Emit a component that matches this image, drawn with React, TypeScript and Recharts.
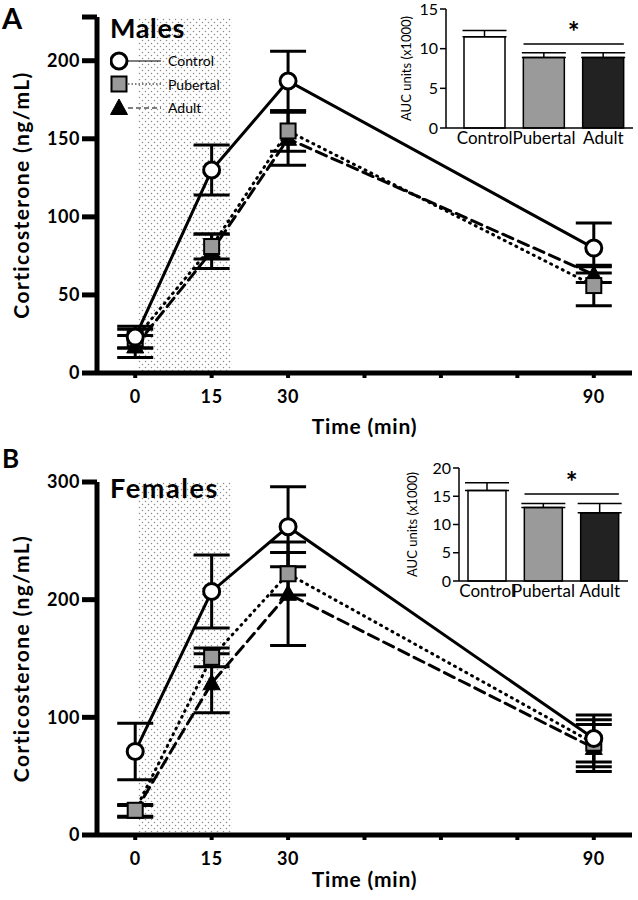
import React from "react";
import {
  ComposedChart,
  BarChart,
  Bar,
  Line,
  XAxis,
  YAxis,
  ErrorBar,
  ReferenceArea,
  ReferenceLine,
  Legend,
  Cell,
} from "recharts";

const FONT = "Lato, 'Open Sans', sans-serif";

// time course (min)
const TIMES = [0, 15, 30, 90];
const TIME_TICKS = [0, 15, 30, 45, 60, 75, 90];
const TIME_LABELS = [0, 15, 30, 90];
const RESTRAINT = [0.5, 19];

// males, ng/mL (mean, sem)
const MALE_CONTROL = [23, 130, 187, 80];
const MALE_CONTROL_SEM = [7, 16, 19, 16];
const MALE_PUBERTAL = [22, 81, 155, 56];
const MALE_PUBERTAL_SEM = [6, 8, 13, 13];
const MALE_ADULT = [17, 78, 150, 63];
const MALE_ADULT_SEM = [7, 11, 17, 5];

// females, ng/mL (mean, sem)
const FEMALE_CONTROL = [71, 207, 262, 82];
const FEMALE_CONTROL_SEM = [24, 31, 34, 20];
const FEMALE_PUBERTAL = [21, 151, 222, 78];
const FEMALE_PUBERTAL_SEM = [5, 8, 18, 20];
const FEMALE_ADULT = [20, 129, 205, 74];
const FEMALE_ADULT_SEM = [5, 25, 44, 20];

// AUC insets (x1000)
const GROUPS = ["Control", "Pubertal", "Adult"];
const GROUP_FILLS = ["#ffffff", "#9a9a9a", "#222222"];
const MALE_AUC = [11.5, 8.9, 8.9];
const MALE_AUC_SEM = [0.8, 0.6, 0.6];
const MALE_SIG = 10.6;
const FEMALE_AUC = [16, 13, 12.1];
const FEMALE_AUC_SEM = [1.4, 0.7, 1.6];
const FEMALE_SIG = 15.4;

type MarkerKind = "circle" | "square" | "triangle";

// draw order: adult at the back, control on top
const SERIES: { key: string; name: string; marker: MarkerKind; dash?: string; legendDash?: string }[] = [
  { key: "adult", name: "Adult", marker: "triangle", dash: "11 6", legendDash: "5 3" },
  { key: "pubertal", name: "Pubertal", marker: "square", dash: "1 5.5", legendDash: "1.5 2" },
  { key: "control", name: "Control", marker: "circle" },
];

function buildTimeData(
  control: number[],
  controlSem: number[],
  pubertal: number[],
  pubertalSem: number[],
  adult: number[],
  adultSem: number[],
) {
  return TIMES.map((t, i) => ({
    t,
    control: control[i],
    controlErr: controlSem[i],
    pubertal: pubertal[i],
    pubertalErr: pubertalSem[i],
    adult: adult[i],
    adultErr: adultSem[i],
  }));
}

const MALE_DATA = buildTimeData(
  MALE_CONTROL, MALE_CONTROL_SEM, MALE_PUBERTAL, MALE_PUBERTAL_SEM, MALE_ADULT, MALE_ADULT_SEM,
);
const FEMALE_DATA = buildTimeData(
  FEMALE_CONTROL, FEMALE_CONTROL_SEM, FEMALE_PUBERTAL, FEMALE_PUBERTAL_SEM, FEMALE_ADULT, FEMALE_ADULT_SEM,
);

function Marker({ kind, cx, cy }: { kind: MarkerKind; cx: number; cy: number }) {
  if (kind === "circle") {
    return <circle cx={cx} cy={cy} r={8} fill="#fff" stroke="#000" strokeWidth={3} />;
  }
  if (kind === "square") {
    return (
      <rect x={cx - 7.5} y={cy - 7.5} width={15} height={15} fill="#999" stroke="#000" strokeWidth={2} />
    );
  }
  return (
    <polygon
      points={`${cx},${cy - 9} ${cx - 8.5},${cy + 6.5} ${cx + 8.5},${cy + 6.5}`}
      fill="#000"
      stroke="#000"
      strokeWidth={1}
    />
  );
}

function MalesLegend() {
  const rows = [...SERIES].reverse();
  return (
    <div style={{ fontFamily: FONT, color: "#000" }}>
      <div style={{ fontSize: 27, fontWeight: 700, lineHeight: "28px", marginBottom: 7, letterSpacing: 0.6 }}>
        Males
      </div>
      {rows.map((s) => (
        <div key={s.key} style={{ display: "flex", alignItems: "center", height: 23.5 }}>
          <svg width={57} height={22}>
            <line x1={18} x2={51} y1={11} y2={11} stroke="#000" strokeWidth={1.2} strokeDasharray={s.legendDash} />
            <Marker kind={s.marker} cx={9} cy={11} />
          </svg>
          <span style={{ fontSize: 14, marginLeft: 1 }}>{s.name}</span>
        </div>
      ))}
    </div>
  );
}

function TimeCourse({
  id,
  data,
  height,
  top,
  plotHeight,
  yMax,
  yTicks,
  yLabels,
  timeOffset,
  legend,
}: {
  id: string;
  data: ReturnType<typeof buildTimeData>;
  height: number;
  top: number;
  plotHeight: number;
  yMax: number;
  yTicks: number[];
  yLabels: number[];
  timeOffset: number;
  legend?: boolean;
}) {
  const tickStyle = { fontSize: 18, fontWeight: 700, fill: "#000", fontFamily: FONT, letterSpacing: 0.6 };
  return (
    <ComposedChart
      width={638}
      height={height}
      data={data}
      margin={{ top, right: 6, left: 0, bottom: 0 }}
    >
      <defs>
        <pattern id={`stipple-${id}`} width={6} height={6} patternUnits="userSpaceOnUse">
          <rect width={6} height={6} fill="#fff" />
          <circle cx={1.5} cy={1.5} r={0.75} fill="#8a8a8a" />
          <circle cx={4.5} cy={4.5} r={0.75} fill="#8a8a8a" />
        </pattern>
      </defs>
      <ReferenceArea
        x1={RESTRAINT[0]}
        x2={RESTRAINT[1]}
        y1={0}
        y2={yMax}
        fill={`url(#stipple-${id})`}
        fillOpacity={1}
        stroke="none"
      />
      <XAxis
        dataKey="t"
        type="number"
        domain={[-7.5, 97.5]}
        ticks={TIME_TICKS}
        interval={0}
        tickFormatter={(v: number) => (TIME_LABELS.includes(v) ? String(v) : "")}
        axisLine={{ stroke: "#000", strokeWidth: 5 }}
        tickLine={{ stroke: "#000", strokeWidth: 4 }}
        tickSize={5}
        tickMargin={12}
        tick={tickStyle}
        height={height - top - plotHeight}
        label={{
          value: "Time (min)",
          position: "insideBottom",
          offset: timeOffset,
          fontSize: 21,
          fontWeight: 700,
          fill: "#000",
          fontFamily: FONT,
          letterSpacing: 0.8,
        }}
      />
      <YAxis
        type="number"
        domain={[0, yMax]}
        ticks={yTicks}
        interval={0}
        allowDataOverflow
        tickFormatter={(v: number) => (yLabels.includes(v) ? String(v) : "")}
        width={97}
        axisLine={{ stroke: "#000", strokeWidth: 5 }}
        tickLine={{ stroke: "#000", strokeWidth: 5 }}
        tickSize={15}
        tickMargin={2}
        tick={tickStyle}
        label={{
          value: "Corticosterone (ng/mL)",
          angle: -90,
          position: "insideLeft",
          offset: 22,
          fontSize: 21,
          fontWeight: 700,
          fill: "#000",
          fontFamily: FONT,
          letterSpacing: 1.4,
          style: { textAnchor: "middle" },
        }}
      />
      {SERIES.map((s) => (
        <Line
          key={s.key}
          dataKey={s.key}
          name={s.name}
          type="linear"
          stroke="#000"
          strokeWidth={3}
          strokeDasharray={s.dash}
          strokeLinecap="round"
          isAnimationActive={false}
          dot={(p: any) => <Marker key={`${s.key}-${p.index}`} kind={s.marker} cx={p.cx} cy={p.cy} />}
          activeDot={false}
        >
          <ErrorBar dataKey={`${s.key}Err`} direction="y" width={18} stroke="#000" strokeWidth={3} />
        </Line>
      ))}
      {legend && (
        <Legend
          layout="vertical"
          align="center"
          verticalAlign="middle"
          content={() => <MalesLegend />}
          wrapperStyle={{ top: 14, left: 110, width: 140 }}
        />
      )}
    </ComposedChart>
  );
}

function AucInset({
  values,
  sems,
  sig,
  yMax,
  yTicks,
  width,
  height,
  top,
  right,
  yAxisWidth,
  padLeft,
  barSize,
  labelOffset,
}: {
  values: number[];
  sems: number[];
  sig: number;
  yMax: number;
  yTicks: number[];
  width: number;
  height: number;
  top: number;
  right: number;
  yAxisWidth: number;
  padLeft: number;
  barSize: number;
  labelOffset: number;
}) {
  const data = GROUPS.map((g, i) => ({ group: g, auc: values[i], err: [0, sems[i]] }));
  const tickStyle = { fontSize: 17, fill: "#000", fontFamily: FONT };
  return (
    <BarChart width={width} height={height} data={data} margin={{ top, right, left: 0, bottom: 0 }}>
      <XAxis
        dataKey="group"
        axisLine={{ stroke: "#000", strokeWidth: 1.5 }}
        tickLine={false}
        tickSize={0}
        tickMargin={4}
        tick={tickStyle}
        interval={0}
        padding={{ left: padLeft, right: 0 }}
        height={24}
      />
      <YAxis
        type="number"
        domain={[0, yMax]}
        ticks={yTicks}
        interval={0}
        width={yAxisWidth}
        axisLine={{ stroke: "#000", strokeWidth: 1.5 }}
        tickLine={{ stroke: "#000", strokeWidth: 1.5 }}
        tickSize={6}
        tickMargin={2}
        tick={{ ...tickStyle, fontSize: 16 }}
        label={{
          value: "AUC units (x1000)",
          angle: -90,
          position: "insideLeft",
          offset: labelOffset,
          fontSize: 13,
          fill: "#000",
          fontFamily: FONT,
          style: { textAnchor: "middle" },
        }}
      />
      <Bar dataKey="auc" barSize={barSize} stroke="#000" strokeWidth={1.5} isAnimationActive={false}>
        {data.map((d, i) => (
          <Cell key={d.group} fill={GROUP_FILLS[i]} />
        ))}
        <ErrorBar dataKey="err" direction="y" width={22} stroke="#000" strokeWidth={1.5} />
      </Bar>
      <ReferenceLine
        segment={[
          { x: "Pubertal", y: sig },
          { x: "Adult", y: sig },
        ]}
        stroke="#000"
        strokeWidth={1.5}
        shape={(p: any) => (
          <line
            x1={p.x1 - barSize / 2}
            x2={p.x2 + barSize / 2}
            y1={p.y1}
            y2={p.y2}
            stroke="#000"
            strokeWidth={1.5}
          />
        )}
        label={{ value: "*", position: "top", offset: 2, fontSize: 28, fontWeight: 700, fill: "#000", fontFamily: FONT }}
      />
    </BarChart>
  );
}

const panelLetter: React.CSSProperties = {
  position: "absolute",
  left: 2,
  fontFamily: FONT,
  fontWeight: 700,
  color: "#000",
  lineHeight: "normal",
};

export default function App() {
  return (
    <div style={{ position: "absolute", left: 0, top: 0, width: 638, height: 900, background: "#fff", overflow: "hidden" }}>
      <div style={{ position: "absolute", left: 0, top: 0 }}>
        <TimeCourse
          id="m"
          data={MALE_DATA}
          height={440}
          top={17}
          plotHeight={356}
          yMax={228}
          yTicks={[0, 50, 100, 150, 200, 228]}
          yLabels={[0, 50, 100, 150, 200]}
          timeOffset={6}
          legend
        />
      </div>
      <div style={{ position: "absolute", left: 0, top: 440 }}>
        <TimeCourse
          id="f"
          data={FEMALE_DATA}
          height={460}
          top={42}
          plotHeight={353}
          yMax={300}
          yTicks={[0, 100, 200, 300]}
          yLabels={[0, 100, 200, 300]}
          timeOffset={13}
        />
      </div>
      <div style={{ position: "absolute", left: 380, top: 0 }}>
        <AucInset
          values={MALE_AUC}
          sems={MALE_AUC_SEM}
          sig={MALE_SIG}
          yMax={15}
          yTicks={[0, 5, 10, 15]}
          width={258}
          height={152}
          top={9}
          right={5}
          yAxisWidth={66}
          padLeft={9}
          barSize={41}
          labelOffset={26}
        />
      </div>
      <div style={{ position: "absolute", left: 380, top: 440 }}>
        <AucInset
          values={FEMALE_AUC}
          sems={FEMALE_AUC_SEM}
          sig={FEMALE_SIG}
          yMax={20}
          yTicks={[0, 5, 10, 15, 20]}
          width={258}
          height={165}
          top={28}
          right={10}
          yAxisWidth={79}
          padLeft={0}
          barSize={38}
          labelOffset={32}
        />
      </div>
      <div style={{ ...panelLetter, top: 0, fontSize: 29 }}>A</div>
      <div style={{ ...panelLetter, top: 442, fontSize: 26 }}>B</div>
      <div
        style={{
          position: "absolute",
          left: 110,
          top: 474,
          fontFamily: FONT,
          fontWeight: 700,
          fontSize: 27,
          lineHeight: "28px",
          letterSpacing: 1.6,
          color: "#000",
        }}
      >
        Females
      </div>
    </div>
  );
}
